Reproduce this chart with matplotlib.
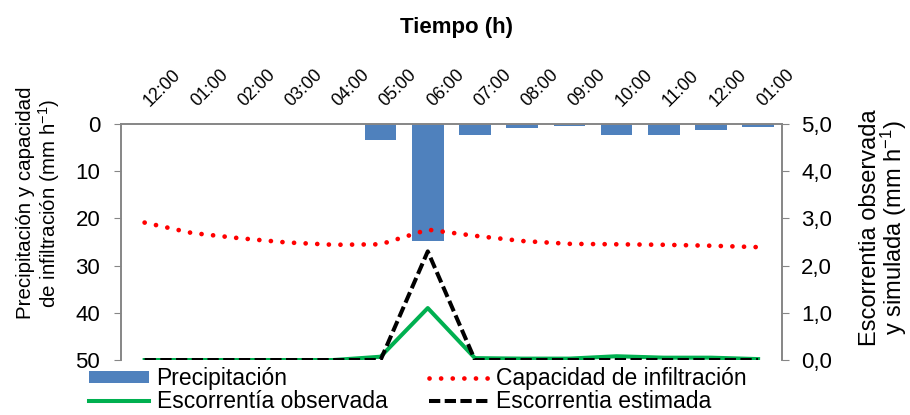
import matplotlib
matplotlib.use('Agg')
import matplotlib.pyplot as plt
import matplotlib.transforms as mtransforms
import numpy as np
from matplotlib.ticker import FuncFormatter

plt.rcParams['font.family'] = ['Liberation Sans', 'DejaVu Sans']
plt.rcParams['mathtext.fontset'] = 'custom'
plt.rcParams['mathtext.rm'] = 'Liberation Sans'
plt.rcParams['mathtext.it'] = 'Liberation Sans:italic'

# datos horarios del evento
horas = ['12:00', '01:00', '02:00', '03:00', '04:00', '05:00', '06:00',
         '07:00', '08:00', '09:00', '10:00', '11:00', '12:00', '01:00']
precipitacion = [0, 0, 0, 0, 0, 3.5, 24.9, 2.3, 0.8, 0.5, 2.4, 2.3, 1.2, 0.6]  # mm/h
capacidad_inf = [20.9, 23.1, 24.2, 25.1, 25.6, 25.5, 22.4,
                 23.7, 24.8, 25.4, 25.5, 25.6, 25.8, 26.1]  # mm/h
escorrentia_obs = [0, 0, 0, 0, 0, 0.07, 1.10, 0.04, 0.03, 0.03, 0.08, 0.05, 0.05, 0.02]
escorrentia_est = [0, 0, 0, 0, 0, 0, 2.30, 0, 0, 0, 0, 0, 0, 0]

x = np.arange(len(horas))
gris = '#868686'

fig = plt.figure(figsize=(9.1, 4.15), dpi=100)
ax1 = fig.add_axes([0.133, 0.1325, 0.726, 0.569])
ax2 = ax1.twinx()

# eje izquierdo: precipitación y capacidad de infiltración (invertido)
barras = ax1.bar(x, precipitacion, width=0.67, color='#4F81BD', label='Precipitación', zorder=2)
linea_cap, = ax1.plot(x, capacidad_inf, color='#FF0000', lw=3.4,
                      linestyle=(0, (0.01, 2.45)), dash_capstyle='round',
                      label='Capacidad de infiltración', zorder=3)
ax1.set_ylim(50, 0)
ax1.set_xlim(-0.5, len(horas) - 0.5)
ax1.set_yticks([0, 10, 20, 30, 40, 50])
ax1.tick_params(axis='y', labelsize=16, length=5, color=gris, pad=10)

# eje x arriba con las horas giradas
ax1.xaxis.tick_top()
ax1.set_xticks(x)
ax1.set_xticklabels(horas, rotation=45, ha='left', va='bottom',
                    rotation_mode='anchor', fontsize=12.8)
ax1.tick_params(axis='x', length=0, pad=10)
desplaza = mtransforms.ScaledTranslation(8 / 100, 0, fig.dpi_scale_trans)
for etiqueta in ax1.get_xticklabels():
    etiqueta.set_transform(etiqueta.get_transform() + desplaza)

# eje derecho: escorrentía
linea_obs, = ax2.plot(x, escorrentia_obs, color='#00B050', lw=2.9,
                      label='Escorrentía observada', zorder=3)
linea_est, = ax2.plot(x, escorrentia_est, color='black', lw=2.9,
                      linestyle=(0, (2.8, 1.1)), label='Escorrentia estimada', zorder=4)
ax2.set_ylim(0, 5)
ax2.set_yticks([0, 1, 2, 3, 4, 5])
ax2.yaxis.set_major_formatter(FuncFormatter(lambda v, p: f'{v:.1f}'.replace('.', ',')))
ax2.tick_params(axis='y', labelsize=16, length=5, color=gris, pad=9)

for a in (ax1, ax2):
    a.spines['bottom'].set_visible(False)
    for s in ('top', 'left', 'right'):
        a.spines[s].set_color(gris)
        a.spines[s].set_linewidth(1.2)

# títulos de los ejes
fig.text(456 / 910, 1 - 27 / 415, 'Tiempo (h)', ha='center', va='center',
         fontsize=16, fontweight='bold')
fig.text(39 / 910, 1 - 203 / 415, 'Precipitación y capacidad\nde infiltración (mm h$^{-1}$)',
         rotation=90, ha='center', va='center', multialignment='center',
         fontsize=14.8, linespacing=1.1)
fig.text(884 / 910, 1 - 228 / 415, 'Escorrentia observada\ny simulada (mm h$^{-1}$)',
         rotation=90, ha='center', va='center', multialignment='center',
         fontsize=17, linespacing=0.92)

# leyenda debajo en dos columnas
fig.legend([barras, linea_obs, linea_cap, linea_est],
           ['Precipitación', 'Escorrentía observada',
            'Capacidad de infiltración', 'Escorrentia estimada'],
           ncol=2, loc='upper left', bbox_to_anchor=(89 / 910, 1 - 367 / 415),
           frameon=False, fontsize=16.5, handlelength=2.6, handleheight=0.45,
           handletextpad=0.35, columnspacing=1.8, labelspacing=0.02,
           borderpad=0, borderaxespad=0)

fig.savefig('out.png', dpi=100)
